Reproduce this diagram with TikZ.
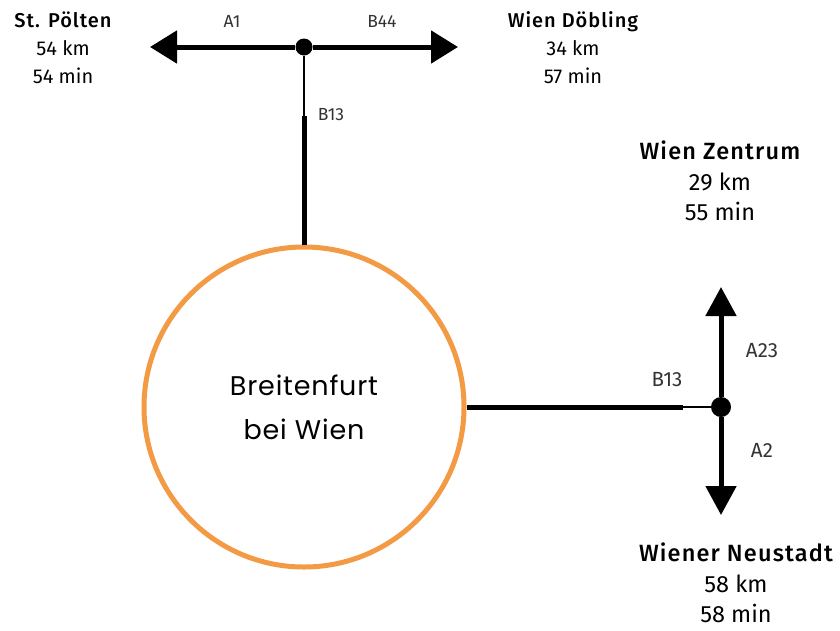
\documentclass[tikz,border=0pt]{standalone}
\usepackage{fontspec}
\setmainfont{Fira Sans}[BoldFont={Fira Sans Medium}]
\newfontfamily\townfont{Poppins}[LetterSpace=3]
\usetikzlibrary{arrows.meta}
\definecolor{circorange}{HTML}{F39A45}
\definecolor{labelgray}{HTML}{333333}
\newcommand{\cityname}[1]{{\bfseries\addfontfeatures{LetterSpace=5}#1}}
\tikzset{
  road/.style={line width=5pt, draw=black},
  thinroad/.style={line width=2pt, draw=black},
  tiptop/.style={-{Triangle[length=27pt,width=32pt]}},
  tipright/.style={-{Triangle[length=29pt,width=30pt]}},
  junction/.style={circle, fill=black, inner sep=0pt, minimum size=17pt},
  bigjunction/.style={circle, fill=black, inner sep=0pt, minimum size=20pt},
  city/.style={align=center, font=\fontsize{20}{28}\selectfont, inner sep=0pt},
  bigcity/.style={align=center, font=\fontsize{23.5}{30.5}\selectfont, inner sep=0pt},
  rlabel/.style={font=\fontsize{17.5}{18}\selectfont, text=labelgray, inner sep=0pt},
  biglabel/.style={font=\fontsize{20.5}{21}\selectfont, text=labelgray, inner sep=0pt},
  town/.style={circle, draw=circorange, line width=5pt, minimum size=320pt, align=center, font=\townfont\fontsize{27}{44}\selectfont, inner sep=0pt}
}
\begin{document}
\begin{tikzpicture}[x=1pt,y=-1pt]
\useasboundingbox (0,0) rectangle (840,630);
% main town
\node[town] (town) at (304,407) {Breitenfurt\\bei Wien};
% top junction
\node[junction] (j1) at (304,47) {};
\coordinate (aL) at (150,47);
\coordinate (aR) at (458,47);
\coordinate (b1) at (304,116);
\draw[road,tiptop] (j1) -- (aL);
\draw[road,tiptop] (j1) -- (aR);
\draw[thinroad] (j1) -- (b1);
\draw[road] (b1) -- (town.north);
% right junction
\node[bigjunction] (j2) at (721,407) {};
\coordinate (aU) at (721,287);
\coordinate (aD) at (721,515);
\coordinate (b2) at (683,407);
\draw[road,tipright] (j2) -- (aU);
\draw[road,tipright] (j2) -- (aD);
\draw[road] (town.east) -- (b2);
\draw[thinroad] (b2) -- (j2);
% road labels
\node[rlabel] (lA1) at (232,21) {A1};
\node[rlabel] (lB44) at (382,21) {B44};
\node[rlabel] (lB13a) at (331,115) {B13};
\node[biglabel] (lB13b) at (667,380) {B13};
\node[biglabel] (lA23) at (762,351) {A23};
\node[biglabel] (lA2) at (762,450) {A2};
% cities
\node[city] (stp) at (63,48) {\cityname{St. Pölten}\\54 km\\54 min};
\node[city] (doeb) at (573,48) {\cityname{Wien Döbling}\\34 km\\57 min};
\node[bigcity] (zen) at (720,181) {\cityname{Wien Zentrum}\\29 km\\55 min};
\node[bigcity] (neu) at (736,583) {\cityname{Wiener Neustadt}\\58 km\\58 min};
\end{tikzpicture}
\end{document}
